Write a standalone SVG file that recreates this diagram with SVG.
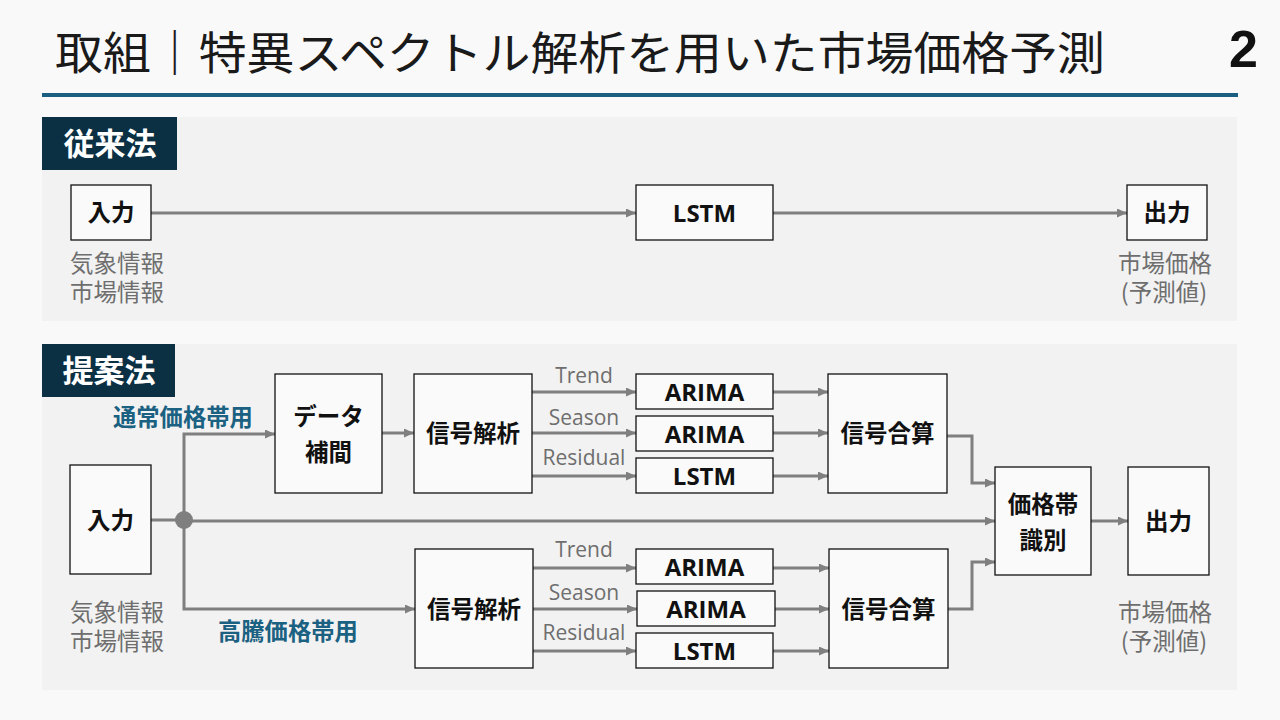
<svg xmlns="http://www.w3.org/2000/svg" width="1280" height="720" viewBox="0 0 1280 720">
<defs>
<marker id="ah" markerUnits="userSpaceOnUse" markerWidth="11" markerHeight="10" refX="10" refY="4.5" orient="auto">
<path d="M0,0 L10,4.5 L0,9 z" fill="#7f7f7f"/>
</marker>
<style>
.jp{font-family:"Noto Sans CJK JP","Noto Sans",sans-serif}
.node{fill:#fafafa;stroke:#111;stroke-width:1.3}
.nt{font-family:"Noto Sans CJK JP","Noto Sans",sans-serif;font-weight:bold;font-size:23.5px;fill:#111;text-anchor:middle}
.mt{font-family:"Open Sans","Noto Sans","Noto Sans CJK JP",sans-serif;font-weight:bold;font-size:24px;fill:#111;text-anchor:middle}
.lbl{font-family:"Open Sans","Noto Sans",sans-serif;font-size:21px;fill:#6e6e6e;text-anchor:middle}
.gray{font-family:"Noto Sans CJK JP","Noto Sans",sans-serif;font-size:23.5px;fill:#6e6e6e}
.blue{font-family:"Noto Sans CJK JP","Noto Sans",sans-serif;font-weight:bold;font-size:23.3px;fill:#1b6181}
.tag{font-family:"Noto Sans CJK JP","Noto Sans",sans-serif;font-weight:bold;font-size:31px;fill:#fff}
.c{fill:none;stroke:#7f7f7f;stroke-width:3}
.ca{fill:none;stroke:#7f7f7f;stroke-width:3;marker-end:url(#ah)}
</style>
</defs>
<rect width="1280" height="720" fill="#f9f9f9"/>
<g id="title">
<text x="55" y="70" class="jp" font-size="45" fill="#1a1a1a" textLength="1050" lengthAdjust="spacingAndGlyphs">取組｜特異スペクトル解析を用いた市場価格予測</text>
<text x="1258" y="67" font-family="'Liberation Sans',Arial,sans-serif" font-weight="bold" font-size="52" fill="#111" text-anchor="end">2</text>
<rect x="42" y="93" width="1196" height="4" fill="#1b5f80"/>
</g>
<g id="panel-conventional">
<rect x="42" y="117" width="1195" height="204" fill="#f2f2f2"/>
<rect x="42" y="117" width="135" height="53" fill="#0b3044"/>
<text x="110" y="155" class="tag" text-anchor="middle">従来法</text>
</g>
<g id="panel-proposed">
<rect x="42" y="344" width="1195" height="346" fill="#f2f2f2"/>
<rect x="42" y="344" width="133" height="53" fill="#0b3044"/>
<text x="109" y="382" class="tag" text-anchor="middle">提案法</text>
</g>
<g id="connectors">
<line class="ca" x1="151" y1="213" x2="636" y2="213"/>
<line class="ca" x1="773" y1="213" x2="1127" y2="213"/>
<line class="c" x1="151" y1="520" x2="184" y2="520"/>
<polyline class="ca" points="184,520 184,434 275,434"/>
<polyline class="ca" points="184,520 184,609 415,609"/>
<line class="ca" x1="184" y1="521" x2="995" y2="521"/>
<line class="ca" x1="382" y1="433" x2="414" y2="433"/>
<line class="ca" x1="532" y1="392" x2="636" y2="392"/>
<line class="ca" x1="532" y1="433" x2="636" y2="433"/>
<line class="ca" x1="532" y1="476" x2="636" y2="476"/>
<line class="ca" x1="773" y1="392" x2="828" y2="392"/>
<line class="ca" x1="773" y1="433" x2="828" y2="433"/>
<line class="ca" x1="773" y1="476" x2="828" y2="476"/>
<line class="ca" x1="533" y1="568" x2="636" y2="568"/>
<line class="ca" x1="533" y1="609" x2="637" y2="609"/>
<line class="ca" x1="533" y1="651" x2="636" y2="651"/>
<line class="ca" x1="773" y1="568" x2="829" y2="568"/>
<line class="ca" x1="775" y1="609" x2="829" y2="609"/>
<line class="ca" x1="773" y1="651" x2="829" y2="651"/>
<polyline class="ca" points="947,436 972,436 972,483 995,483"/>
<polyline class="ca" points="948,609 972,609 972,562 995,562"/>
<line class="ca" x1="1091" y1="521" x2="1128" y2="521"/>
<circle cx="184" cy="520" r="9" fill="#7f7f7f"/>
<text x="584" y="383" class="lbl">Trend</text>
<text x="584" y="425" class="lbl">Season</text>
<text x="584" y="465" class="lbl">Residual</text>
<text x="584" y="557" class="lbl">Trend</text>
<text x="584" y="600" class="lbl">Season</text>
<text x="584" y="640" class="lbl">Residual</text>
<text x="113" y="426" class="blue">通常価格帯用</text>
<text x="218" y="640" class="blue">高騰価格帯用</text>
</g>
<g id="n-in1"><rect class="node" x="71" y="185" width="80" height="55"/><text x="111" y="221" class="nt">入力</text>
<text x="70" y="272" class="gray">気象情報</text><text x="70" y="301" class="gray">市場情報</text></g>
<g id="n-lstm0"><rect class="node" x="636" y="185" width="137" height="55"/><text x="704.5" y="222" class="mt">LSTM</text></g>
<g id="n-out1"><rect class="node" x="1127" y="185" width="80" height="55"/><text x="1167" y="221" class="nt">出力</text>
<text x="1212" y="272" class="gray" text-anchor="end">市場価格</text><text x="1164" y="301" class="gray" text-anchor="middle">(予測値)</text></g>
<g id="n-in2"><rect class="node" x="70" y="465" width="81" height="109"/><text x="110.5" y="529" class="nt">入力</text>
<text x="70" y="621" class="gray">気象情報</text><text x="70" y="650" class="gray">市場情報</text></g>
<g id="n-interp"><rect class="node" x="275" y="374" width="107" height="119"/><text x="328.5" y="425" class="nt">データ</text><text x="328.5" y="461" class="nt">補間</text></g>
<g id="n-sa1"><rect class="node" x="414" y="374" width="118" height="119"/><text x="473" y="442" class="nt">信号解析</text></g>
<g id="n-a1"><rect class="node" x="636" y="374" width="137" height="35"/><text x="704.5" y="401" class="mt">ARIMA</text></g>
<g id="n-a2"><rect class="node" x="636" y="416" width="137" height="35"/><text x="704.5" y="443" class="mt">ARIMA</text></g>
<g id="n-l1"><rect class="node" x="636" y="458" width="137" height="35"/><text x="704.5" y="485" class="mt">LSTM</text></g>
<g id="n-sum1"><rect class="node" x="828" y="374" width="119" height="119"/><text x="887.5" y="442" class="nt">信号合算</text></g>
<g id="n-sa2"><rect class="node" x="415" y="549" width="118" height="119"/><text x="474" y="618" class="nt">信号解析</text></g>
<g id="n-a3"><rect class="node" x="636" y="549" width="137" height="35"/><text x="704.5" y="576" class="mt">ARIMA</text></g>
<g id="n-a4"><rect class="node" x="637" y="591" width="138" height="35"/><text x="706" y="618" class="mt">ARIMA</text></g>
<g id="n-l2"><rect class="node" x="636" y="633" width="137" height="35"/><text x="704.5" y="660" class="mt">LSTM</text></g>
<g id="n-sum2"><rect class="node" x="829" y="549" width="119" height="119"/><text x="888.5" y="618" class="nt">信号合算</text></g>
<g id="n-band"><rect class="node" x="995" y="467" width="96" height="108"/><text x="1043" y="513" class="nt">価格帯</text><text x="1043" y="549" class="nt">識別</text></g>
<g id="n-out2"><rect class="node" x="1128" y="467" width="81" height="108"/><text x="1168.5" y="530" class="nt">出力</text>
<text x="1212" y="621" class="gray" text-anchor="end">市場価格</text><text x="1164" y="650" class="gray" text-anchor="middle">(予測値)</text></g>
</svg>
